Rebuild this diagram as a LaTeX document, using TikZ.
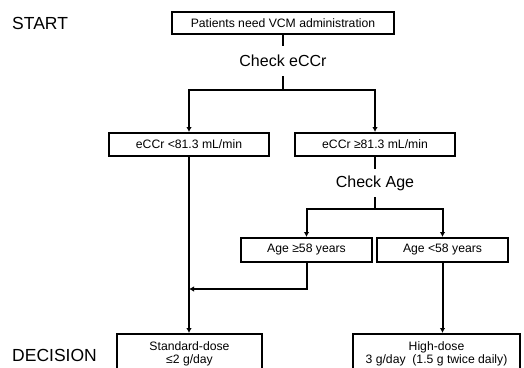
\documentclass[tikz,border=0pt]{standalone}
\usepackage{fontspec}
\setmainfont{Liberation Sans}
\usetikzlibrary{arrows.meta}
\begin{document}
\begin{tikzpicture}[x=1pt,y=-1pt,
  box/.style={draw,line width=2pt,inner sep=0pt,font=\fontsize{12.2}{13}\selectfont,align=center},
  chk/.style={inner sep=0pt,minimum height=28pt,font=\fontsize{16}{18}\selectfont},
  lbl/.style={inner sep=0pt,anchor=west,font=\fontsize{17.5}{20}\selectfont},
  ln/.style={line width=2pt},
  arr/.style={line width=2pt,-{Latex[length=5pt,width=5.5pt]}}]
\useasboundingbox (0,0) rectangle (524,367);
\clip (0,0) rectangle (524,367);
\node[lbl] (start) at (12,23) {START};
\node[lbl] (decision) at (12,355) {DECISION};
\node[box,minimum width=222pt,minimum height=22pt] (top) at (283,23) {Patients need VCM administration};
\node[chk,minimum height=30pt] (ce) at (283,61) {Check eCCr};
\node[box,minimum width=160pt,minimum height=23pt] (b1) at (189,144.5) {eCCr <81.3 mL/min};
\node[box,minimum width=160pt,minimum height=23pt] (b2) at (375,144.5) {eCCr ≥81.3 mL/min};
\node[chk] (ca) at (375,183) {Check Age};
\node[box,minimum width=131pt,minimum height=24pt] (a1) at (306.5,250) {Age ≥58 years};
\node[box,minimum width=131pt,minimum height=24pt] (a2) at (442.5,250) {Age <58 years};
\node[box,minimum width=145pt,minimum height=39pt,anchor=north] (std) at (189.5,333) {Standard-dose\\≤2 g/day};
\node[box,minimum width=167pt,minimum height=39pt,anchor=north] (high) at (436.5,333) {High-dose\\3 g/day\ \ (1.5 g twice daily)};
\coordinate (j1) at (283,90);
\coordinate (j2) at (375,209);
\coordinate (m) at (189,289);
\draw[ln] (top) -- (ce);
\draw[ln] (ce) -- (j1);
\draw[arr] (j1) -| (b1);
\draw[arr] (j1) -| (b2);
\draw[ln] (b2) -- (ca);
\draw[ln] (ca) -- (j2);
\draw[arr] (j2) -| (a1);
\draw[arr] (j2) -| (a2);
\draw[arr] (b1.south) -- (b1.south |- std.north);
\draw[arr] (a1.south) |- (m);
\draw[arr] (a2.south) -- (a2.south |- high.north);
\end{tikzpicture}
\end{document}
